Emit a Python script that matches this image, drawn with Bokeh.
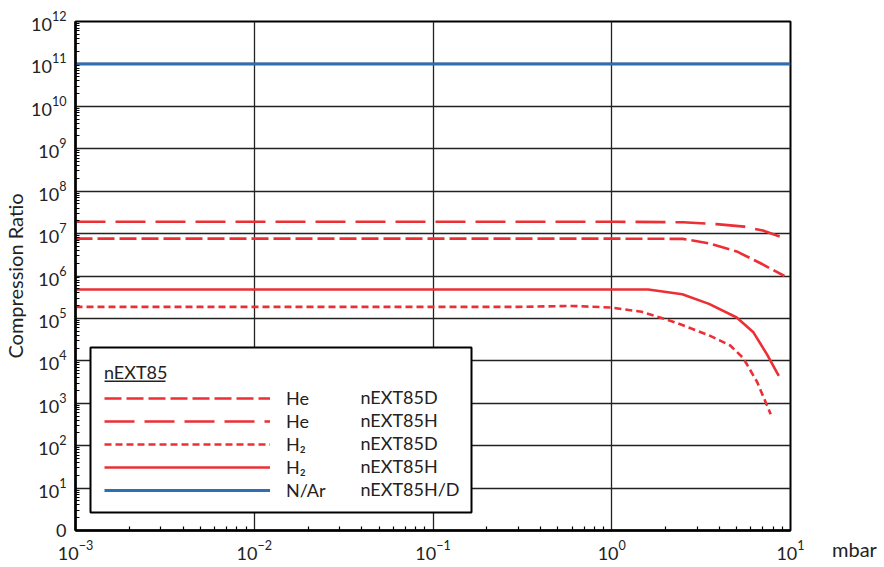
from bokeh.plotting import figure
from bokeh.models import (Range1d, FixedTicker, Legend, LegendItem, Label,
                          BoxAnnotation, LogTickFormatter, Div)
from bokeh.layouts import row
from bokeh.embed import file_html
from bokeh.resources import INLINE

# ---------------- data ----------------
x_ticks = [0.001, 0.01, 0.1, 1, 10]
y_ticks = [1, 10, 100, 10**3, 10**4, 10**5, 10**6, 10**7, 10**8, 10**9,
           10**10, 10**11, 10**12]
y_zero_label = "0"

# He nEXT85H (long dash)
he_h_x = [0.001, 1.0, 2.5, 3.85, 5.5, 7.0, 8.7]
he_h_y = [1.9e7, 1.9e7, 1.85e7, 1.67e7, 1.46e7, 1.18e7, 8.5e6]
# He nEXT85D (medium dash)
he_d_x = [0.001, 1.0, 2.5, 3.5, 5.0, 6.8, 9.25]
he_d_y = [7.6e6, 7.6e6, 7.5e6, 5.9e6, 3.8e6, 2.0e6, 1.0e6]
# H2 nEXT85H (solid)
h2_h_x = [0.001, 1.0, 1.6, 2.48, 3.5, 5.0, 6.2, 7.4, 8.6]
h2_h_y = [4.8e5, 4.8e5, 4.8e5, 3.7e5, 2.2e5, 1.05e5, 4.7e4, 1.4e4, 4.4e3]
# H2 nEXT85D (short dash)
h2_d_x = [0.001, 0.3, 0.6, 1.0, 1.47, 2.26, 3.5, 4.6, 5.45, 6.5, 7.75]
h2_d_y = [1.87e5, 1.87e5, 1.97e5, 1.8e5, 1.43e5, 8.1e4, 4.0e4, 2.3e4, 1.15e4, 3.2e3, 550]
# N/Ar nEXT85H/D (blue)
nar_x = [0.001, 10]
nar_y = [1e11, 1e11]

legend_gases = ["He", "He", "H\u2082", "H\u2082", "N/Ar"]
legend_models = ["nEXT85D", "nEXT85H", "nEXT85D", "nEXT85H", "nEXT85H/D"]
legend_title = "nEXT85"
x_unit = "mbar"
y_title = "Compression Ratio"

RED = "#ec2f35"
BLUE = "#2d6fb2"
FONT = "Lato"
TXT = "#222222"

# ---------------- figure ----------------
fig = figure(frame_width=715, frame_height=509,
             x_axis_type="log", y_axis_type="log",
             x_range=Range1d(1e-3, 1e1), y_range=Range1d(1, 1e12),
             output_backend="svg", toolbar_location=None,
             min_border_left=70, min_border_right=20,
             min_border_top=21, min_border_bottom=20)

fig.outline_line_color = "black"
fig.outline_line_width = 2

minor_x = [m * 10.0**e for e in range(-3, 1) for m in range(2, 10)]
minor_y = [m * 10.0**e for e in range(0, 12) for m in range(2, 10)]
fig.xaxis.ticker = FixedTicker(ticks=x_ticks, minor_ticks=minor_x)
fig.yaxis.ticker = FixedTicker(ticks=y_ticks, minor_ticks=minor_y)
fig.xaxis.formatter = LogTickFormatter()
fig.yaxis.formatter = LogTickFormatter()
fig.yaxis.major_label_overrides = {1: y_zero_label}

for ax in (fig.xaxis, fig.yaxis):
    ax.axis_line_color = "black"
    ax.axis_line_width = 2.5
    ax.major_tick_in = 0
    ax.major_tick_out = 0
    ax.minor_tick_in = 4
    ax.minor_tick_out = 0
    ax.minor_tick_line_color = "black"
    ax.minor_tick_line_width = 1.2
    ax.major_label_text_font = FONT
    ax.major_label_text_font_size = "18px"
    ax.major_label_text_color = TXT

fig.xaxis.major_label_standoff = 10
fig.yaxis.major_label_standoff = 9
fig.yaxis.axis_label = y_title
fig.yaxis.axis_label_text_font = FONT
fig.yaxis.axis_label_text_font_size = "20px"
fig.yaxis.axis_label_text_font_style = "normal"
fig.yaxis.axis_label_text_color = TXT
fig.yaxis.axis_label_standoff = 1

fig.grid.grid_line_color = "#222222"
fig.grid.grid_line_width = 1.3

# ---------------- lines ----------------
r_he_d = fig.line(he_d_x, he_d_y, line_color=RED, line_width=2.6, line_dash="17 5")
r_he_h = fig.line(he_h_x, he_h_y, line_color=RED, line_width=2.6, line_dash="30 10")
r_h2_d = fig.line(h2_d_x, h2_d_y, line_color=RED, line_width=2.6, line_dash="7 4")
r_h2_h = fig.line(h2_h_x, h2_h_y, line_color=RED, line_width=2.6)
r_nar = fig.line(nar_x, nar_y, line_color=BLUE, line_width=3)

# ---------------- legend ----------------
def px_to_x(px):
    return 10 ** ((px - 78) / 178.75 - 3)

def px_to_y(py):
    return 10 ** ((530 - py) / 42.42)

# white legend box with black border (covers grid lines)
fig.add_layout(BoxAnnotation(left=px_to_x(93), right=px_to_x(474),
                             bottom=px_to_y(512), top=px_to_y(347),
                             fill_color="white", fill_alpha=1,
                             line_color="black", line_width=2, line_alpha=1))

# second column: pump model names (screen units relative to the frame)
row_screen_y = [134, 111, 88, 65, 42]
for model, sy in zip(legend_models, row_screen_y):
    fig.add_layout(Label(x=285, y=sy, x_units="screen", y_units="screen",
                         text=model, text_baseline="middle", text_font=FONT,
                         text_font_size="18px", text_color=TXT))

# underline of the legend title
fig.add_layout(BoxAnnotation(left=px_to_x(107), right=px_to_x(168),
                             bottom=px_to_y(381.5), top=px_to_y(380),
                             fill_color=TXT, fill_alpha=1, line_alpha=0))

renderers = [r_he_d, r_he_h, r_h2_d, r_h2_h, r_nar]
items = [LegendItem(label=g, renderers=[r]) for g, r in zip(legend_gases, renderers)]
legend = Legend(items=items, location=(17, 17), title=legend_title,
                glyph_width=166, glyph_height=20, label_height=20,
                label_standoff=16, label_width=171, spacing=1, padding=12,
                margin=0, title_standoff=4,
                border_line_alpha=0, background_fill_alpha=0,
                label_text_font=FONT, label_text_font_size="18px",
                label_text_color=TXT,
                title_text_font=FONT, title_text_font_size="18px",
                title_text_font_style="normal", title_text_color=TXT)
fig.add_layout(legend)

# x unit, to the right of the last x tick label
unit_div = Div(text=x_unit, width=56, height=12, margin=(538, 0, 0, 22),
               styles={"font-family": FONT, "font-size": "20px",
                       "color": TXT, "line-height": "22px"})

p = row(fig, unit_div)

open("out.html", "w").write(file_html(p, INLINE))
